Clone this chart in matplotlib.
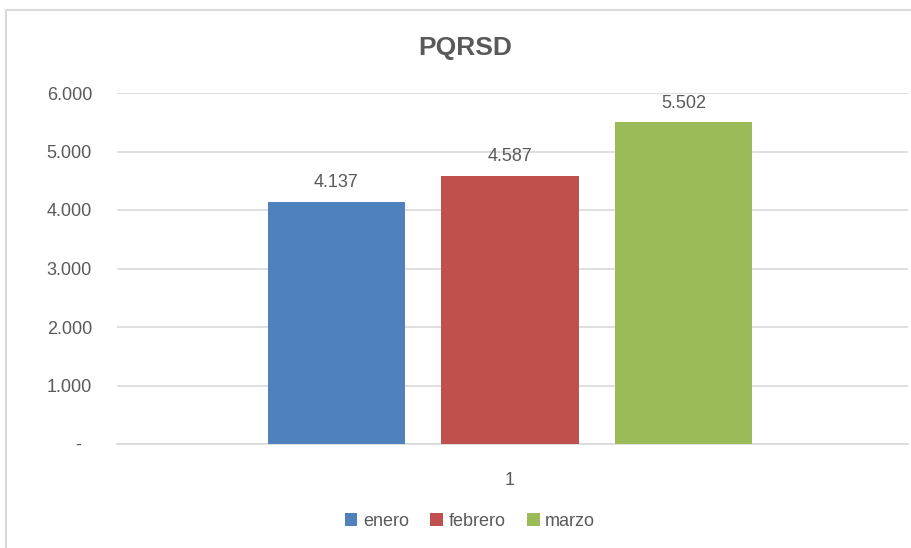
import matplotlib.pyplot as plt
from matplotlib.patches import Rectangle
from matplotlib.ticker import FuncFormatter

months = ["enero", "febrero", "marzo"]
values = [4137, 4587, 5502]
colors = ["#4F81BD", "#C0504D", "#9BBB59"]
category = "1"
yticks = [0, 1000, 2000, 3000, 4000, 5000, 6000]

plt.rcParams["font.family"] = ["Liberation Sans Narrow", "Liberation Sans", "DejaVu Sans"]
text_color = "#595959"
grid_color = "#D9D9D9"


def fmt(v, pos=None):
    if v == 0:
        return "-"
    return f"{v:,.0f}".replace(",", ".")


def fmt_axis(v, pos=None):
    # Excel accounting style: zero shown as a dash, not right-aligned
    if v == 0:
        return "-  "
    return fmt(v)


fig = plt.figure(figsize=(9.11, 5.48), dpi=100)
# chart area border (Excel style)
fig.patches.append(Rectangle((6 / 911, -0.05), 1.0, 1 - 10 / 548 + 0.05,
                             transform=fig.transFigure, fill=False,
                             edgecolor=grid_color, linewidth=1.5))

ax = fig.add_axes([117 / 911, 1 - 444 / 548, (908 - 117) / 911, (444 - 93) / 548])

offsets = [-1, 0, 1]
for off, m, v, c in zip(offsets, months, values, colors):
    ax.bar(off, v, width=0.79, color=c, label=m, zorder=3)
    ax.text(off, v + 180, fmt(v), ha="center", va="bottom",
            fontsize=13, color=text_color)

ax.set_xlim(-2.265, 2.294)
ax.set_ylim(0, 6000)
ax.set_yticks(yticks)
ax.yaxis.set_major_formatter(FuncFormatter(fmt_axis))
ax.set_xticks([0])
ax.set_xticklabels([category])
ax.tick_params(axis="both", length=0, labelsize=13, colors=text_color)
ax.tick_params(axis="y", pad=18)
ax.tick_params(axis="x", pad=20)
ax.grid(axis="y", color=grid_color, linewidth=1.2, zorder=0)
for s in ["top", "right", "left"]:
    ax.spines[s].set_visible(False)
ax.spines["bottom"].set_color(grid_color)
ax.spines["bottom"].set_linewidth(1.2)

fig.text(465 / 911, 1 - 48 / 548, "PQRSD", ha="center", va="center",
         fontsize=19, fontweight="bold", color=text_color)

fig.legend(loc="center", bbox_to_anchor=(470 / 911, 1 - 521 / 548), ncol=3,
           frameon=False, fontsize=13, labelcolor=text_color,
           handlelength=0.7, handleheight=0.7, handletextpad=0.3,
           columnspacing=1.2)

fig.savefig("out.png", dpi=100)
